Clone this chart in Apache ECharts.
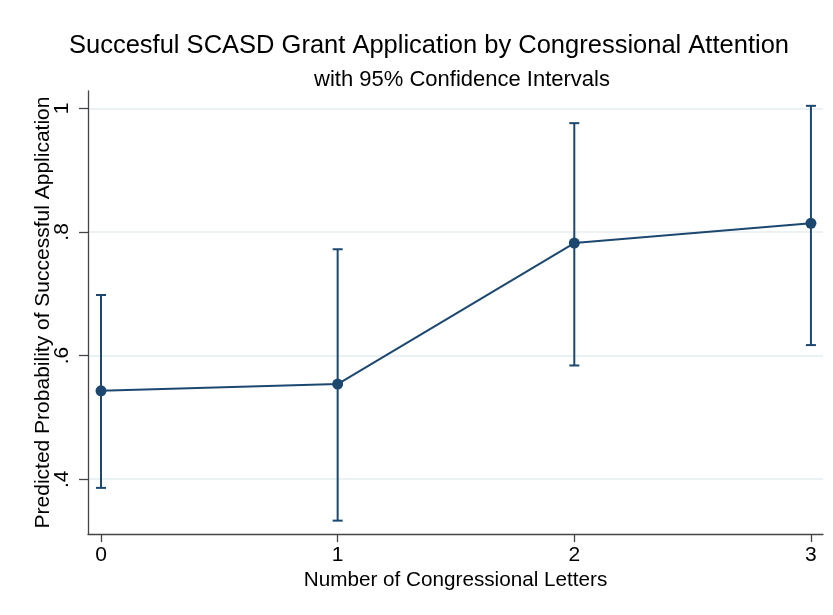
<!DOCTYPE html>
<html>
<head>
<meta charset="utf-8">
<script src="https://cdn.jsdelivr.net/npm/echarts@6/dist/echarts.min.js"></script>
<style>
  html, body { margin: 0; padding: 0; background: #fff; }
  #chart { width: 833px; height: 615px; }
</style>
</head>
<body>
<div id="chart"></div>
<script>
// Number of congressional letters received
const letters = [0, 1, 2, 3];
// Predicted probability of a successful application
const predicted = [0.543, 0.554, 0.782, 0.814];
// 95% confidence interval bounds
const ciLower = [0.386, 0.333, 0.584, 0.617];
const ciUpper = [0.698, 0.772, 0.976, 1.004];
// Axis tick positions
const xTicks = [0, 1, 2, 3];
const yTicks = [0.4, 0.6, 0.8, 1];

const navy = '#1c4870';
const font = '"Liberation Sans", Arial, Helvetica, sans-serif';

const chart = echarts.init(document.getElementById('chart'), null, { renderer: 'canvas' });

const intervalData = letters.map((x, i) => [x, ciLower[i], ciUpper[i]]);
const pointData = letters.map((x, i) => [x, predicted[i]]);

chart.setOption({
  animation: false,
  backgroundColor: '#ffffff',
  title: [
    {
      text: 'Succesful SCASD Grant Application by Congressional Attention',
      left: 424, top: 28, textAlign: 'center',
      textStyle: { fontFamily: font, fontSize: 25.5, fontWeight: 'normal', color: '#000' }
    },
    {
      text: 'with 95% Confidence Intervals',
      left: 457, top: 64, textAlign: 'center',
      textStyle: { fontFamily: font, fontSize: 22, fontWeight: 'normal', color: '#000' }
    }
  ],
  grid: { left: 88, right: 10, top: 91, bottom: 81, containLabel: false },
  xAxis: {
    type: 'value',
    min: -0.055, max: 3.051,
    name: 'Number of Congressional Letters',
    nameLocation: 'middle', nameGap: 36, nameMoveOverlap: false,
    nameTextStyle: { fontFamily: font, fontSize: 20.7, color: '#000' },
    axisLine: { show: true, onZero: false, lineStyle: { color: '#444', width: 1.3 } },
    axisTick: { show: true, length: 8, customValues: xTicks, lineStyle: { color: '#444', width: 1.3 } },
    axisLabel: {
      customValues: xTicks, margin: 11,
      fontFamily: font, fontSize: 21, color: '#000',
      formatter: v => String(v)
    },
    splitLine: { show: false }
  },
  yAxis: {
    type: 'value',
    min: 0.3114, max: 1.028,
    name: 'Predicted Probability of Successful Application',
    nameLocation: 'middle', nameGap: 34, nameRotate: 90, nameMoveOverlap: false,
    nameTextStyle: { fontFamily: font, fontSize: 21, color: '#000' },
    axisLine: { show: true, onZero: false, lineStyle: { color: '#444', width: 1.3 } },
    axisTick: { show: true, length: 9, customValues: yTicks, lineStyle: { color: '#444', width: 1.3 } },
    axisLabel: {
      customValues: yTicks, margin: 15, rotate: 90,
      fontFamily: font, fontSize: 21, color: '#000',
      formatter: v => (v >= 1 ? '1' : String(+v.toFixed(1)).replace(/^0/, ''))
    },
    splitLine: { show: true, lineStyle: { color: '#e6eef1', width: 1.5 } }
  },
  series: [
    {
      type: 'custom',
      name: '95% CI',
      data: intervalData,
      encode: { x: 0, y: [1, 2] },
      renderItem: (params, api) => {
        const x = api.value(0);
        const lo = api.coord([x, api.value(1)]);
        const hi = api.coord([x, api.value(2)]);
        const cap = 5;
        const style = { stroke: navy, lineWidth: 2, fill: null };
        return {
          type: 'group',
          children: [
            { type: 'line', shape: { x1: lo[0], y1: lo[1], x2: hi[0], y2: hi[1] }, style },
            { type: 'line', shape: { x1: hi[0] - cap, y1: hi[1], x2: hi[0] + cap, y2: hi[1] }, style },
            { type: 'line', shape: { x1: lo[0] - cap, y1: lo[1], x2: lo[0] + cap, y2: lo[1] }, style }
          ]
        };
      },
      z: 2
    },
    {
      type: 'line',
      name: 'Predicted probability',
      data: pointData,
      symbol: 'circle',
      symbolSize: 11,
      itemStyle: { color: navy },
      lineStyle: { color: navy, width: 2 },
      z: 3
    }
  ]
});
</script>
</body>
</html>
